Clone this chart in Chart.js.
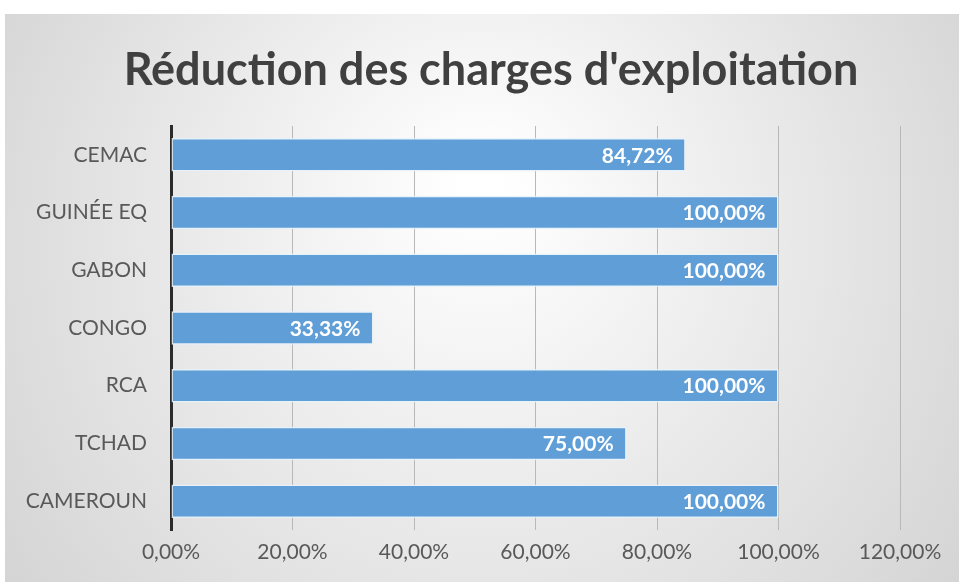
<!DOCTYPE html>
<html>
<head>
<meta charset="utf-8">
<script src="https://cdn.jsdelivr.net/npm/chart.js@4"></script>
<style>
  html, body { margin: 0; padding: 0; background: #fff; }
  #wrap { position: absolute; left: 5px; top: 14px; width: 954px; height: 568px; }
</style>
</head>
<body>
<div id="wrap"><canvas id="chart"></canvas></div>
<script>
// données du graphique
const categories = ['CEMAC', 'GUINÉE EQ', 'GABON', 'CONGO', 'RCA', 'TCHAD', 'CAMEROUN'];
const reductions = [84.72, 100, 100, 33.33, 100, 75, 100];
const xMax = 120;
const xStep = 20;
const titre = "Réduction des charges d'exploitation";

const FONT = 'Lato, "Open Sans", sans-serif';

function fmtPct(v) {
    return Number(v).toFixed(2).replace('.', ',') + '%';
}

// fond en dégradé
const bgPlugin = {
    id: 'bg',
    beforeDraw(chart) {
        const { ctx, width, height } = chart;
        const g = ctx.createRadialGradient(width * 0.5, height * 0.3, 20, width * 0.5, height * 0.45, width * 0.62);
        g.addColorStop(0, '#ffffff');
        g.addColorStop(1, '#d3d3d3');
        ctx.save();
        ctx.fillStyle = g;
        ctx.fillRect(0, 0, width, height);
        ctx.restore();
    }
};

// titre centré sur tout le cadre
const titlePlugin = {
    id: 'bigTitle',
    afterDraw(chart) {
        const { ctx, width } = chart;
        ctx.save();
        ctx.font = 'bold 45px ' + FONT;
        ctx.fillStyle = '#404040';
        ctx.textAlign = 'center';
        ctx.textBaseline = 'middle';
        ctx.fillText(titre, width / 2 + 9, 56);
        ctx.restore();
    }
};

// étiquettes de valeurs à l'intérieur des barres
const labelPlugin = {
    id: 'valueLabels',
    afterDatasetsDraw(chart) {
        const { ctx } = chart;
        const meta = chart.getDatasetMeta(0);
        ctx.save();
        ctx.font = 'bold 21px ' + FONT;
        ctx.fillStyle = '#ffffff';
        ctx.textAlign = 'right';
        ctx.textBaseline = 'middle';
        meta.data.forEach((bar, i) => {
            ctx.fillText(fmtPct(reductions[i]), bar.x - 13, bar.y + 1);
        });
        ctx.restore();
    }
};

new Chart(document.getElementById('chart'), {
    type: 'bar',
    data: {
        labels: categories,
        datasets: [{
            data: reductions,
            backgroundColor: '#5f9ed7',
            borderColor: 'rgba(230,242,252,0.9)',
            borderWidth: 1.5,
            borderSkipped: false,
            barPercentage: 0.58,
            categoryPercentage: 1
        }]
    },
    options: {
        indexAxis: 'y',
        responsive: true,
        maintainAspectRatio: false,
        animation: false,
        layout: { padding: { left: 0, right: 59, top: 112, bottom: 0 } },
        plugins: {
            legend: { display: false },
            tooltip: { enabled: false },
            title: { display: false }
        },
        scales: {
            x: {
                min: 0,
                max: xMax,
                ticks: {
                    stepSize: xStep,
                    color: '#595959',
                    font: { family: FONT, size: 21 },
                    padding: 10,
                    callback: v => fmtPct(v)
                },
                grid: { color: '#b8b8b8', lineWidth: 1, drawTicks: false },
                border: { display: false },
                afterFit(scale) { scale.height = 52; }
            },
            y: {
                ticks: {
                    color: '#595959',
                    font: { family: FONT, size: 21 },
                    padding: 24
                },
                grid: { display: false, drawTicks: false },
                border: { display: true, color: '#2b2b2b', width: 3 },
                afterFit(scale) { scale.width = 166; }
            }
        }
    },
    plugins: [bgPlugin, titlePlugin, labelPlugin]
});
</script>
</body>
</html>
